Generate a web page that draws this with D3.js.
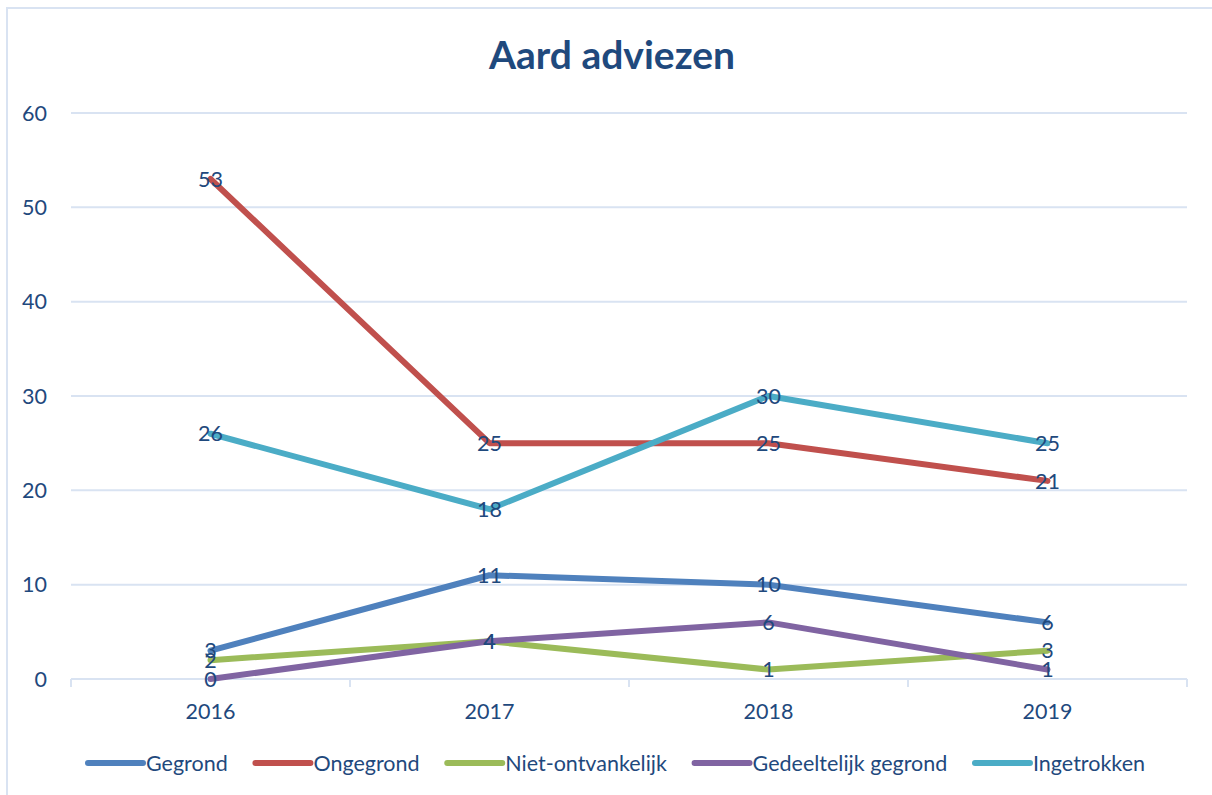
<!DOCTYPE html>
<html>
<head>
<meta charset="utf-8">
<script src="https://cdn.jsdelivr.net/npm/d3@7"></script>
<style>
  html, body { margin: 0; padding: 0; background: #fff; }
  svg { display: block; font-family: Lato, "Open Sans", sans-serif; }
</style>
</head>
<body>
<svg id="chart" width="1212" height="795"></svg>
<script>
const years = ["2016", "2017", "2018", "2019"];
const seriesNames = ["Gegrond", "Ongegrond", "Niet-ontvankelijk", "Gedeeltelijk gegrond", "Ingetrokken"];
const gegrond = [3, 11, 10, 6];
const ongegrond = [53, 25, 25, 21];
const nietOntvankelijk = [2, 4, 1, 3];
const gedeeltelijkGegrond = [0, 4, 6, 1];
const ingetrokken = [26, 18, 30, 25];
const yTicks = [0, 10, 20, 30, 40, 50, 60];
const colors = ["#4F81BD", "#C0504D", "#9BBB59", "#8064A2", "#4BACC6"];

const seriesValues = [gegrond, ongegrond, nietOntvankelijk, gedeeltelijkGegrond, ingetrokken];
const series = seriesNames.map((name, i) => ({ name, values: seriesValues[i], color: colors[i] }));

const textColor = "#1F497D";
const gridColor = "#D9E3F2";
const fs = 21.5;

const svg = d3.select("#chart");

// Outer chart border
svg.append("rect")
  .attr("x", 7).attr("y", 8).attr("width", 1220).attr("height", 800)
  .attr("fill", "none").attr("stroke", gridColor).attr("stroke-width", 2);

const x = d3.scaleBand().domain(years).range([71, 1187]);
const y = d3.scaleLinear().domain([0, 60]).range([679, 113]);

// Gridlines
svg.append("g")
  .selectAll("line")
  .data(yTicks.filter(t => t > 0))
  .join("line")
  .attr("x1", 71).attr("x2", 1187)
  .attr("y1", d => y(d)).attr("y2", d => y(d))
  .attr("stroke", gridColor).attr("stroke-width", 2);

// Y axis labels
svg.append("g")
  .selectAll("text")
  .data(yTicks)
  .join("text")
  .attr("x", 47)
  .attr("y", d => y(d))
  .attr("dy", "0.35em")
  .attr("text-anchor", "end")
  .attr("font-size", fs)
  .attr("fill", textColor)
  .text(d => d);

// X axis line with tick marks at band boundaries
const xAxis = d3.axisBottom(x).tickSize(0).tickPadding(0);
const xg = svg.append("g").attr("transform", `translate(0,${y(0)})`).call(xAxis);
xg.select(".domain").remove();
xg.append("line").attr("x1", 71).attr("x2", 1187).attr("y1", 0).attr("y2", 0)
  .attr("stroke", gridColor).attr("stroke-width", 2);
const boundaries = years.map(yr => x(yr)).concat([x(years[years.length - 1]) + x.bandwidth()]);
xg.selectAll("line.tickmark")
  .data(boundaries)
  .join("line")
  .attr("class", "tickmark")
  .attr("x1", d => d).attr("x2", d => d)
  .attr("y1", 0).attr("y2", 8)
  .attr("stroke", gridColor).attr("stroke-width", 2);
xg.selectAll(".tick text")
  .attr("y", 40)
  .attr("dy", 0)
  .attr("font-size", fs)
  .attr("font-family", "Lato, sans-serif")
  .attr("fill", textColor);

// Lines
const line = d3.line()
  .x((d, i) => x(years[i]) + x.bandwidth() / 2)
  .y(d => y(d));

svg.append("g")
  .selectAll("path")
  .data(series)
  .join("path")
  .attr("d", d => line(d.values))
  .attr("fill", "none")
  .attr("stroke", d => d.color)
  .attr("stroke-width", 6)
  .attr("stroke-linejoin", "round")
  .attr("stroke-linecap", "round");

// Data labels (centered on points)
const labels = svg.append("g");
series.forEach(s => {
  labels.selectAll(null)
    .data(s.values)
    .join("text")
    .attr("x", (d, i) => x(years[i]) + x.bandwidth() / 2)
    .attr("y", d => y(d))
    .attr("dy", "0.36em")
    .attr("text-anchor", "middle")
    .attr("font-size", fs)
    .attr("fill", textColor)
    .text(d => d);
});

// Title
svg.append("text")
  .attr("x", 612).attr("y", 69)
  .attr("text-anchor", "middle")
  .attr("font-size", 39)
  .attr("font-weight", "bold")
  .attr("fill", textColor)
  .text("Aard adviezen");

// Legend
const legend = svg.append("g");
const swatchW = 55, swatchGap = 3, legendY = 763, legendLeft = 88, legendRight = 1145;
const items = [];
series.forEach(s => {
  const g = legend.append("g");
  g.append("line")
    .attr("x1", 0).attr("x2", swatchW)
    .attr("y1", 0).attr("y2", 0)
    .attr("stroke", s.color).attr("stroke-width", 6)
    .attr("stroke-linecap", "round");
  const t = g.append("text")
    .attr("x", swatchW + swatchGap)
    .attr("y", 0).attr("dy", "0.35em")
    .attr("font-size", fs)
    .attr("fill", textColor)
    .text(s.name);
  const w = swatchW + swatchGap + t.node().getComputedTextLength();
  items.push({ g, w });
});
const sumW = items.reduce((a, b) => a + b.w, 0);
const entryGap = Math.max(10, (legendRight - legendLeft - sumW) / (items.length - 1));
let cursor = legendLeft;
items.forEach(it => {
  it.g.attr("transform", `translate(${cursor},${legendY})`);
  cursor += it.w + entryGap;
});
</script>
</body>
</html>
